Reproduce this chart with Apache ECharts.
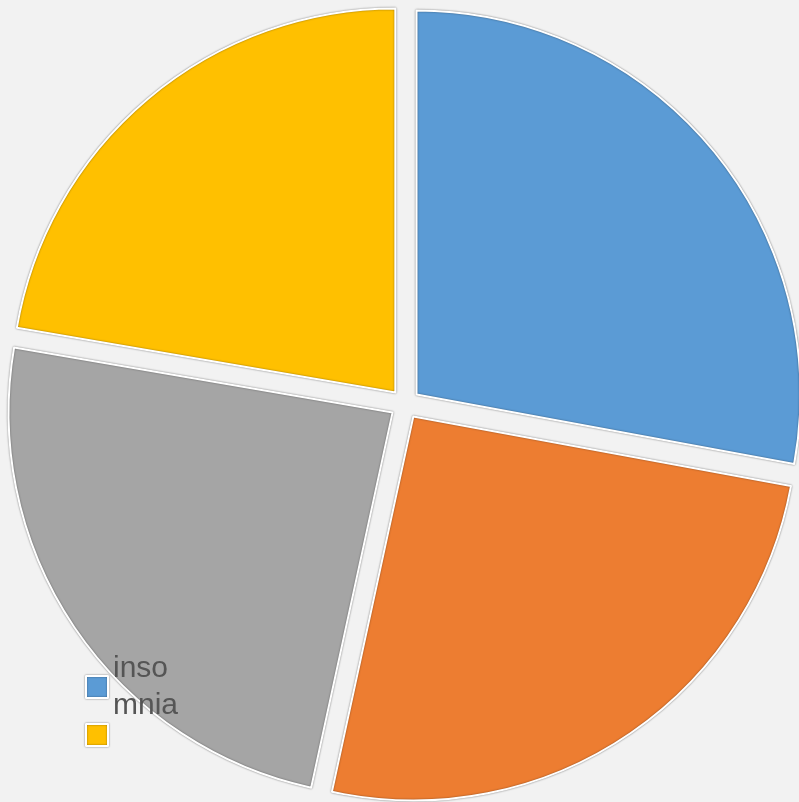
<!DOCTYPE html>
<html>
<head>
<meta charset="utf-8">
<script src="https://cdn.jsdelivr.net/npm/echarts@6/dist/echarts.min.js"></script>
<style>
  html, body { margin: 0; padding: 0; background: #f2f2f2; }
  #chart { width: 799px; height: 802px; }
</style>
</head>
<body>
<div id="chart"></div>
<script>
// slice data, clockwise from 12 o'clock
const names = ['insomnia', 'Series 2', 'Series 3', 'Series 4']
const values = [27.9, 25.5, 24.3, 22.3]
const colors = ['#5b9bd5', '#ed7d31', '#a5a5a5', '#ffc000']

const chart = echarts.init(document.getElementById('chart'))

const iconStyle = {
  borderColor: '#ffffff', borderWidth: 2,
  shadowColor: 'rgba(0,0,0,0.45)', shadowBlur: 2
}

chart.setOption({
  backgroundColor: '#f2f2f2',
  animation: false,
  legend: [
    {
      data: [names[0]],
      orient: 'vertical', left: 80, top: 645,
      itemWidth: 22, itemHeight: 22, itemGap: 6,
      icon: 'rect', selectedMode: false,
      itemStyle: iconStyle,
      formatter: () => 'inso\nmnia',
      textStyle: { color: '#555555', fontSize: 30, lineHeight: 37, fontFamily: 'Liberation Sans, Arial, sans-serif' }
    },
    {
      data: [names[3]],
      orient: 'vertical', left: 80, top: 718,
      itemWidth: 22, itemHeight: 22,
      icon: 'rect', selectedMode: false,
      itemStyle: iconStyle,
      formatter: () => '',
      textStyle: { fontSize: 1 }
    }
  ],
  series: [{
    type: 'pie',
    center: [405, 404],
    radius: [0, 384],
    startAngle: 90,
    clockwise: true,
    selectedMode: 'multiple',
    selectedOffset: 15,
    label: { show: false },
    labelLine: { show: false },
    emphasis: { disabled: true },
    itemStyle: iconStyle,
    data: names.map((n, i) => ({
      name: n, value: values[i], selected: true,
      itemStyle: { color: colors[i] },
      select: { itemStyle: { color: colors[i] } }
    }))
  }]
})
</script>
</body>
</html>
